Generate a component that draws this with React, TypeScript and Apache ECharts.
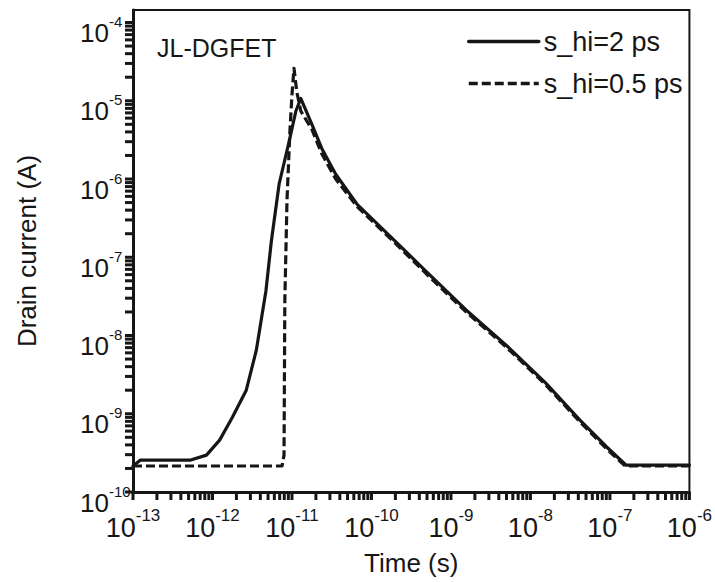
import React, { useEffect, useRef } from 'react';
import * as echarts from 'echarts';

// ---- data ----
const timeSolid = [1e-13, 1.23e-13, 5.2e-13, 8.4e-13, 1.23e-12, 1.78e-12, 2.66e-12, 3.55e-12, 4.7e-12, 5.5e-12, 6.9e-12, 9.2e-12, 1.12e-11, 1.29e-11, 1.78e-11, 2.37e-11, 3.55e-11, 6.65e-11, 2.09e-10, 4.94e-10, 1.55e-9, 4.9e-9, 1.55e-8, 4.19e-8, 9.1e-8, 1.6e-7, 1e-6];
const currentSolid = [2.15e-10, 2.55e-10, 2.55e-10, 2.96e-10, 4.6e-10, 9.0e-10, 2.0e-9, 6.4e-9, 3.7e-8, 1.6e-7, 8.7e-7, 3.0e-6, 7.4e-6, 1.07e-5, 5.0e-6, 2.46e-6, 1.15e-6, 4.7e-7, 1.53e-7, 6.5e-8, 2.12e-8, 7.6e-9, 2.48e-9, 8.3e-10, 3.76e-10, 2.2e-10, 2.2e-10];

const timeDashed = [1e-13, 7.5e-12, 7.94e-12, 8.13e-12, 8.66e-12, 9.44e-12, 1.0e-11, 1.06e-11, 1.15e-11, 1.29e-11, 1.78e-11, 2.37e-11, 3.55e-11, 6.65e-11, 2.09e-10, 4.94e-10, 1.55e-9, 4.9e-9, 1.55e-8, 4.19e-8, 9.1e-8, 1.55e-7, 1e-6];
const currentDashed = [2.15e-10, 2.15e-10, 2.96e-10, 2.8e-8, 5.4e-7, 4.3e-6, 1.2e-5, 2.6e-5, 1.3e-5, 7.4e-6, 4.3e-6, 2.1e-6, 1.0e-6, 4.4e-7, 1.44e-7, 6.1e-8, 2.0e-8, 7.2e-9, 2.35e-9, 7.9e-10, 3.55e-10, 2.15e-10, 2.15e-10];

const seriesNames = ['s_hi=2 ps', 's_hi=0.5 ps'];
const annotation = 'JL-DGFET';
const xAxisTitle = 'Time (s)';
const yAxisTitle = 'Drain current (A)';

// axis decades (tick labels are 10^exponent)
const xDecades = [-13, -12, -11, -10, -9, -8, -7, -6];
const yDecades = [-10, -9, -8, -7, -6, -5, -4];
const minorMultipliers = [2, 3, 4, 5, 6, 7, 8, 9];

const X_MIN = 1e-13;
const X_MAX = 1e-6;
const Y_MIN = 1e-10;
const Y_MAX = Math.pow(10, -3.84);

const INK = '#161616';
const FONT = '"Liberation Sans", Arial, Helvetica, sans-serif';
const TICK_LEN = 8;
const TICK_W = 3;

function tickValues(decades: number[]) {
  const out: number[] = [];
  decades.forEach((d, i) => {
    const base = Math.pow(10, d);
    out.push(base);
    if (i < decades.length - 1) minorMultipliers.forEach((m) => out.push(m * base));
  });
  return out;
}

const powFormatter = (v: number) => {
  const l = Math.log10(v);
  const e = Math.round(l);
  if (Math.abs(l - e) > 0.01) return '';
  return `{b|10}{s|${e}}`;
};

const richX = {
  b: { fontSize: 27, fontFamily: FONT, color: INK, verticalAlign: 'bottom' },
  s: { fontSize: 17, fontFamily: FONT, color: INK, verticalAlign: 'top', lineHeight: 34 },
};
const richY = {
  b: { fontSize: 26, fontFamily: FONT, color: INK, verticalAlign: 'bottom' },
  s: { fontSize: 15, fontFamily: FONT, color: INK, verticalAlign: 'top', lineHeight: 32 },
};

const titleGraphic = {
  id: 'title',
  type: 'text',
  left: 157,
  top: 35,
  style: { text: annotation, fontSize: 25, fontFamily: FONT, fill: INK },
};

export default function App() {
  const ref = useRef<HTMLDivElement>(null);
  useEffect(() => {
    if (!ref.current) return;
    const chart = echarts.init(ref.current, undefined, { renderer: 'svg' });
    const option: any = {
      animation: false,
      backgroundColor: '#ffffff',
      grid: { left: 133, right: 19, top: 10, bottom: 90, show: true, borderColor: INK, borderWidth: 2, backgroundColor: 'transparent' },
      legend: {
        data: seriesNames,
        orient: 'vertical',
        left: 462,
        top: 23,
        itemWidth: 70,
        itemHeight: 14,
        itemGap: 15,
        itemStyle: { opacity: 0 },
        lineStyle: { width: 3.5 },
        textStyle: { fontSize: 27, fontFamily: FONT, color: INK, padding: [0, 0, 0, 0] },
      },
      xAxis: {
        type: 'log',
        logBase: 10,
        min: X_MIN,
        max: X_MAX,
        name: xAxisTitle,
        nameLocation: 'middle',
        nameGap: 58,
        nameTextStyle: { fontSize: 26, fontFamily: FONT, color: INK },
        axisLine: { show: true, lineStyle: { color: INK, width: 3 } },
        axisTick: { show: false },
        splitLine: { show: false },
        axisLabel: { formatter: powFormatter, rich: richX, margin: 15, color: INK },
      },
      yAxis: {
        type: 'log',
        logBase: 10,
        min: Y_MIN,
        max: Y_MAX,
        name: yAxisTitle,
        nameLocation: 'middle',
        nameGap: 93,
        nameRotate: 90,
        nameTextStyle: { fontSize: 26, fontFamily: FONT, color: INK },
        axisLine: { show: true, lineStyle: { color: INK, width: 3 } },
        axisTick: { show: false },
        splitLine: { show: false },
        axisLabel: { formatter: powFormatter, rich: richY, margin: 53, align: 'left', padding: [15, 0, 0, 0], color: INK },
      },
      graphic: [titleGraphic],
      series: [
        {
          name: seriesNames[0],
          type: 'line',
          data: timeSolid.map((t, i) => [t, currentSolid[i]]),
          symbol: 'none',
          lineStyle: { color: INK, width: 3.2, type: 'solid', cap: 'round', join: 'round' },
          itemStyle: { color: INK },
          z: 3,
        },
        {
          name: seriesNames[1],
          type: 'line',
          data: timeDashed.map((t, i) => [t, currentDashed[i]]),
          symbol: 'none',
          lineStyle: { color: INK, width: 3.2, type: [9, 4], join: 'round' },
          itemStyle: { color: INK },
          z: 4,
        },
      ],
    };
    chart.setOption(option);

    // log-axis minor/major ticks (1..9 x 10^k), positioned through the chart's own scales
    const finder = { xAxisIndex: 0, yAxisIndex: 0 };
    const tickLines: any[] = [];
    tickValues(xDecades).forEach((t, i) => {
      const p = chart.convertToPixel(finder, [t, Y_MIN]) as number[];
      if (!p || isNaN(p[0])) return;
      tickLines.push({
        id: 'xt' + i,
        type: 'line',
        z: 20,
        silent: true,
        shape: { x1: p[0], y1: p[1], x2: p[0], y2: p[1] + TICK_LEN },
        style: { stroke: INK, lineWidth: TICK_W },
      });
    });
    tickValues(yDecades).forEach((v, i) => {
      const p = chart.convertToPixel(finder, [X_MIN, v]) as number[];
      if (!p || isNaN(p[1])) return;
      tickLines.push({
        id: 'yt' + i,
        type: 'line',
        z: 20,
        silent: true,
        shape: { x1: p[0] - TICK_LEN, y1: p[1], x2: p[0], y2: p[1] },
        style: { stroke: INK, lineWidth: TICK_W },
      });
    });
    chart.setOption({ graphic: [titleGraphic, ...tickLines] });

    return () => chart.dispose();
  }, []);
  return <div ref={ref} style={{ position: 'fixed', left: 0, top: 0, width: 715, height: 582 }} />;
}
